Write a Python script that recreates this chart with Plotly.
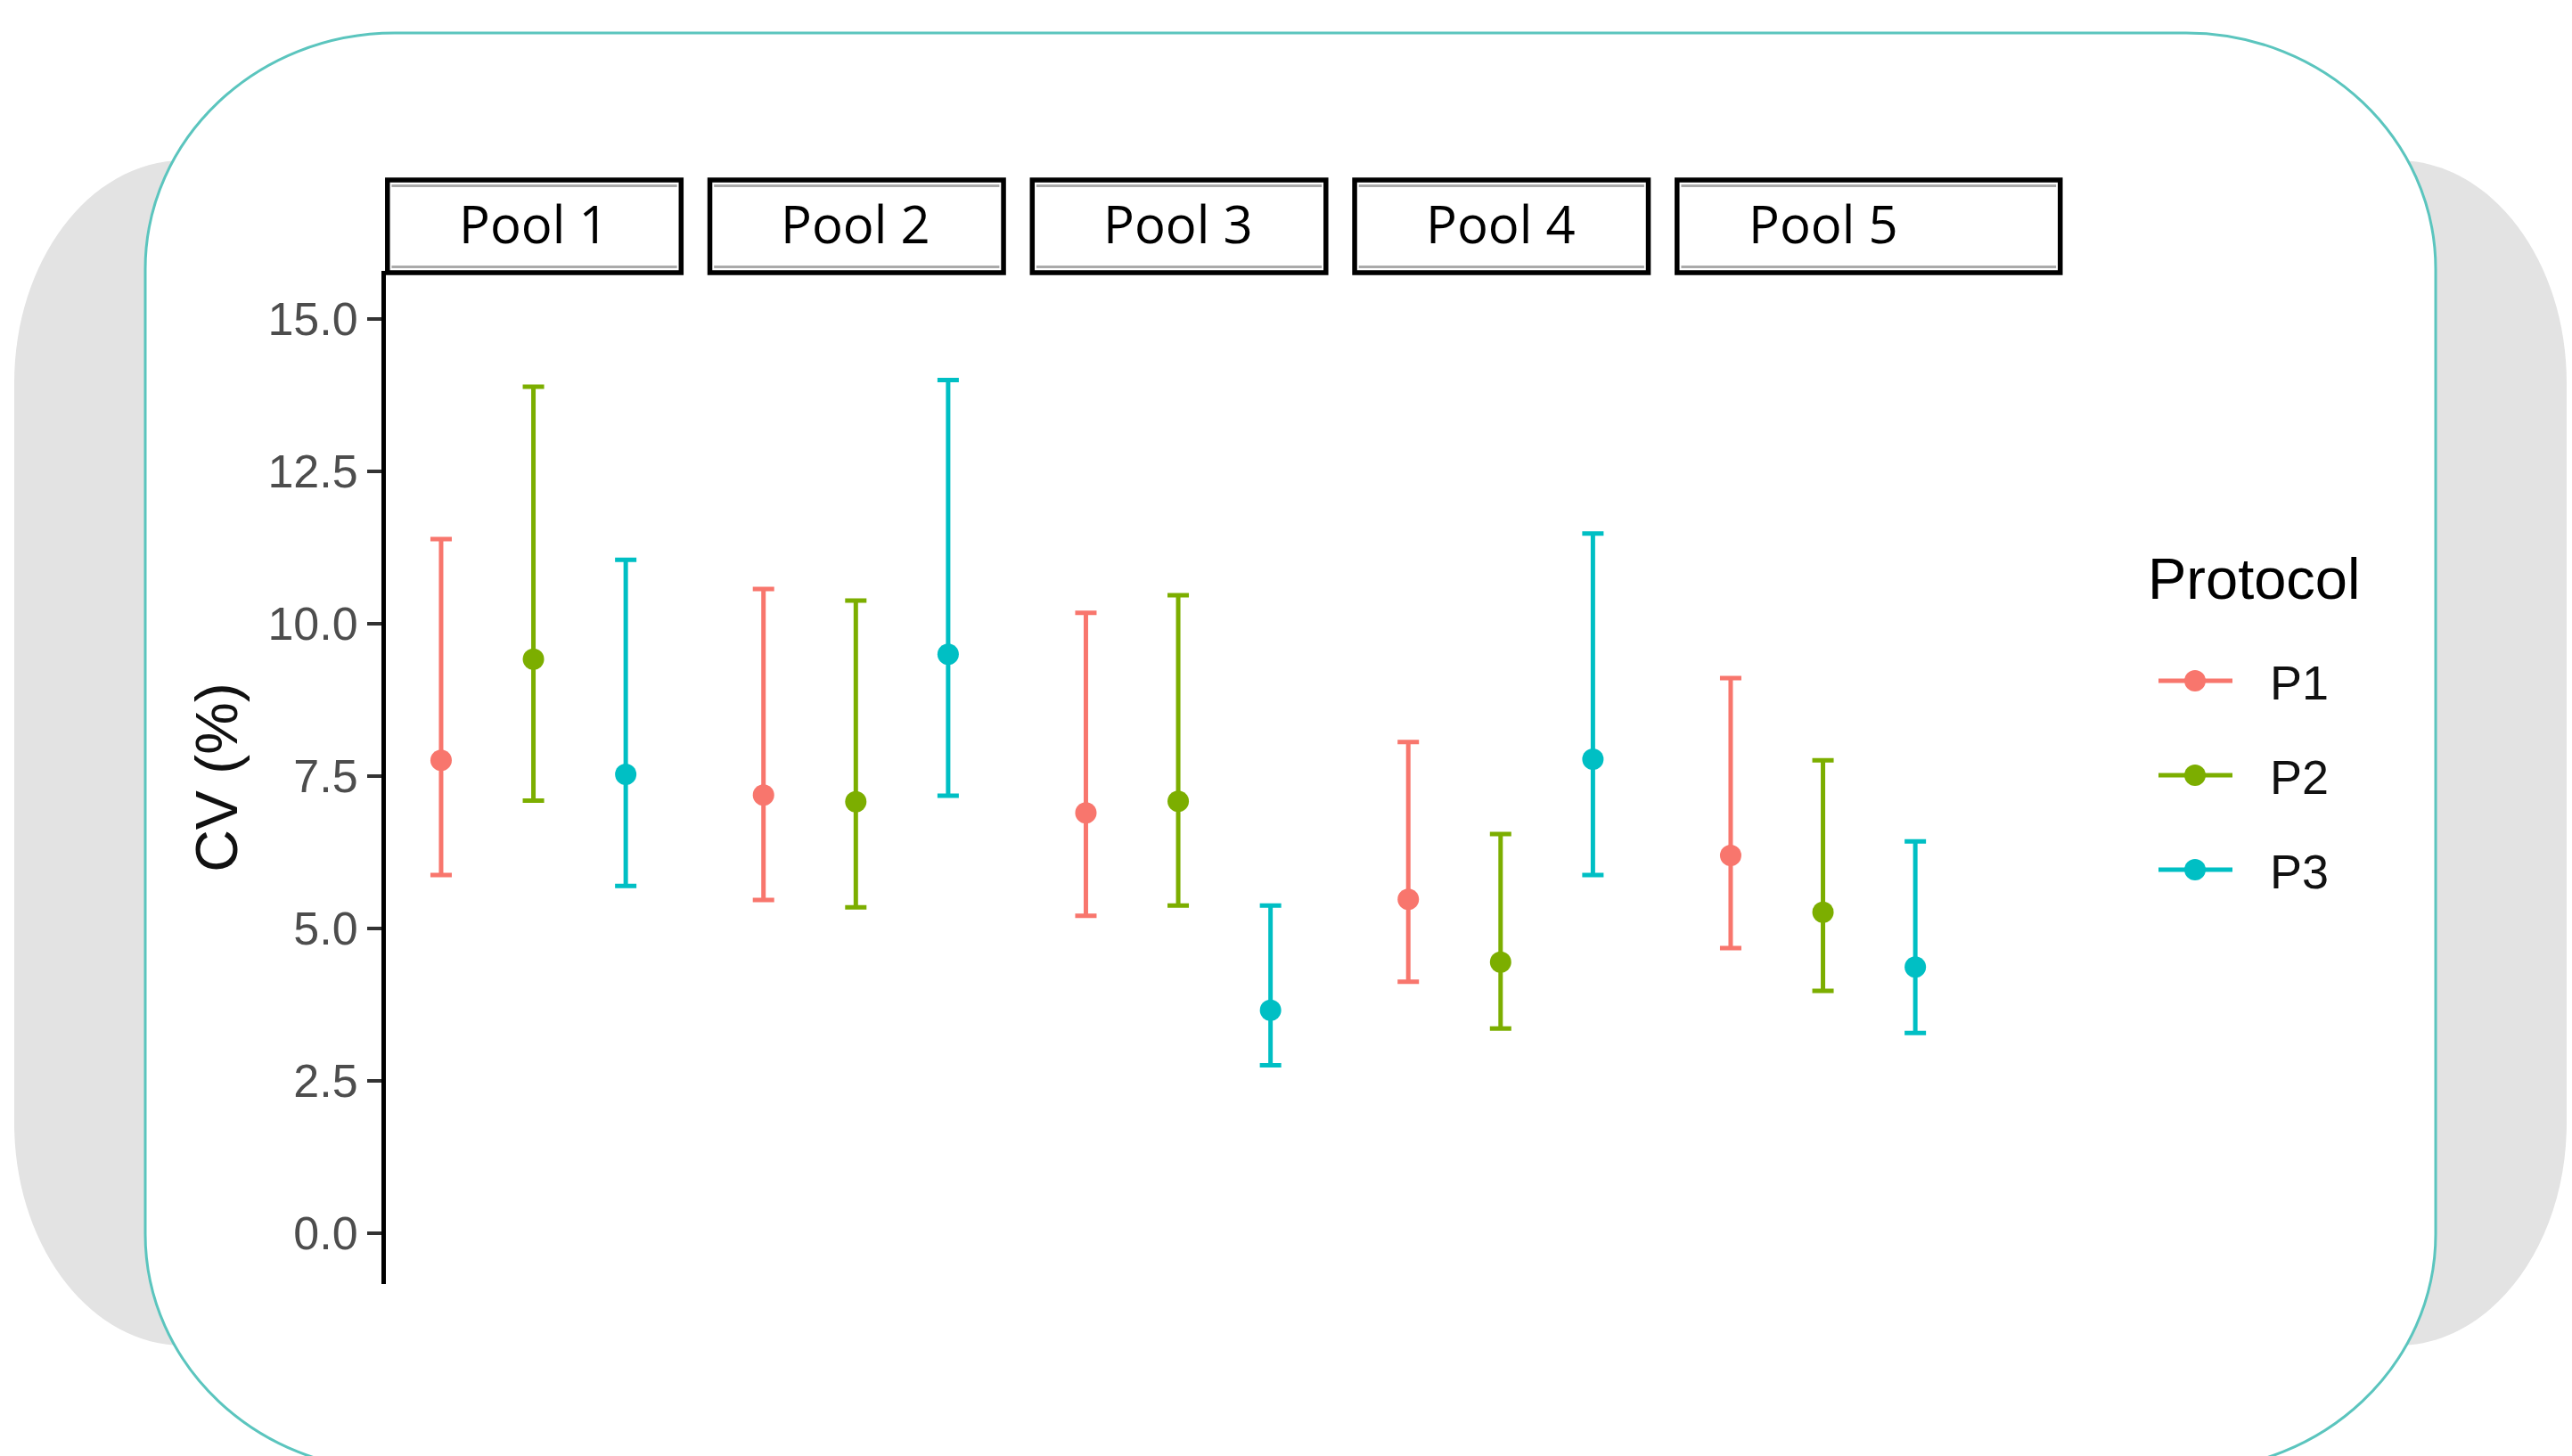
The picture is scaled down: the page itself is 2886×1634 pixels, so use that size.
import plotly.graph_objects as go

# ---- data -------------------------------------------------------------
pools = ["Pool 1", "Pool 2", "Pool 3", "Pool 4", "Pool 5"]
protocols = ["P1", "P2", "P3"]
colors = {"P1": "#F8766D", "P2": "#7CAE00", "P3": "#00BFC4"}

cv_mean = {
    "P1": [7.76, 7.19, 6.90, 5.48, 6.20],
    "P2": [9.42, 7.08, 7.09, 4.45, 5.27],
    "P3": [7.53, 9.50, 3.66, 7.78, 4.37],
}
cv_low = {
    "P1": [5.88, 5.47, 5.21, 4.13, 4.68],
    "P2": [7.10, 5.35, 5.38, 3.36, 3.98],
    "P3": [5.70, 7.18, 2.76, 5.88, 3.29],
}
cv_high = {
    "P1": [11.39, 10.57, 10.18, 8.06, 9.11],
    "P2": [13.89, 10.38, 10.47, 6.55, 7.76],
    "P3": [11.05, 14.00, 5.38, 11.48, 6.43],
}
y_ticks = [0.0, 2.5, 5.0, 7.5, 10.0, 12.5, 15.0]

# ---- page geometry (pixels) ------------------------------------------
W, H = 2886, 1634


def px(x):
    return x / W


def py(y):
    return 1 - y / H


PANEL_LEFT, PANEL_STEP, PANEL_W = 432.8, 361.75, 331.5
PLOT_TOP, PLOT_BOTTOM = 304, 1441
STRIP_TOP, STRIP_BOTTOM = 202, 306

fig = go.Figure()

# one facet per pool, sharing a single y axis
for k, pool in enumerate(pools):
    xa = "x" if k == 0 else f"x{k + 1}"
    for p in protocols:
        m = cv_mean[p][k]
        fig.add_trace(go.Scatter(
            x=[p], y=[m], xaxis=xa, yaxis="y",
            mode="markers",
            marker=dict(color=colors[p], size=24),
            error_y=dict(type="data", symmetric=False,
                         array=[cv_high[p][k] - m],
                         arrayminus=[m - cv_low[p][k]],
                         color=colors[p], thickness=5, width=12),
            name=p, showlegend=False,
        ))

layout_axes = {}
for k in range(len(pools)):
    left = PANEL_LEFT + k * PANEL_STEP
    key = "xaxis" if k == 0 else f"xaxis{k + 1}"
    layout_axes[key] = dict(
        domain=[px(left), px(left + PANEL_W)],
        type="category", categoryorder="array", categoryarray=protocols,
        range=[-0.6, 2.6], anchor="y",
        showline=False, showticklabels=False, ticks="",
        showgrid=False, zeroline=False,
    )

fig.update_layout(
    width=W, height=H,
    margin=dict(l=0, r=0, t=0, b=0),
    paper_bgcolor="white", plot_bgcolor="rgba(0,0,0,0)",
    showlegend=False,
    font=dict(family="Liberation Sans, Arial, sans-serif"),
    yaxis=dict(
        domain=[py(PLOT_BOTTOM), py(PLOT_TOP)],
        range=[-0.83, 15.79], anchor="x",
        tickvals=y_ticks, ticktext=[f"{v:.1f}" for v in y_ticks],
        showline=True, linecolor="black", linewidth=4.5,
        ticks="outside", ticklen=16, tickwidth=4, tickcolor="#333333",
        tickfont=dict(size=52, color="#4d4d4d"),
        showgrid=False, zeroline=False,
        title=dict(text="CV (%)", font=dict(size=66, color="#111111"), standoff=14),
    ),
    **layout_axes,
)


# ---- decorative frame behind the chart --------------------------------
def rounded_path(x0, y0, x1, y1, rx, ry, k=0.552):
    pts = [
        ("M", [(x0 + rx, y0)]),
        ("L", [(x1 - rx, y0)]),
        ("C", [(x1 - rx + k * rx, y0), (x1, y0 + ry - k * ry), (x1, y0 + ry)]),
        ("L", [(x1, y1 - ry)]),
        ("C", [(x1, y1 - ry + k * ry), (x1 - rx + k * rx, y1), (x1 - rx, y1)]),
        ("L", [(x0 + rx, y1)]),
        ("C", [(x0 + rx - k * rx, y1), (x0, y1 - ry + k * ry), (x0, y1 - ry)]),
        ("L", [(x0, y0 + ry)]),
        ("C", [(x0, y0 + ry - k * ry), (x0 + rx - k * rx, y0), (x0 + rx, y0)]),
    ]
    out = []
    for cmd, coords in pts:
        out.append(cmd + " ".join(f"{px(a):.5f},{py(b):.5f}" for a, b in coords))
    return " ".join(out) + " Z"


shapes = [
    dict(type="path", xref="paper", yref="paper", layer="below",
         path=rounded_path(16, 180, 2880, 1510, 190, 250),
         fillcolor="#e3e3e3", line=dict(width=0)),
    dict(type="path", xref="paper", yref="paper", layer="below",
         path=rounded_path(163, 37, 2733, 1650, 280, 265),
         fillcolor="white", line=dict(color="#5bc5be", width=3)),
]

# facet strips
annotations = []
strip_right = [1.0, 1.0, 1.0, 1.0, 1.303]
for k, pool in enumerate(pools):
    xr = "x domain" if k == 0 else f"x{k + 1} domain"
    shapes.append(dict(type="rect", xref=xr, yref="paper",
                       x0=0.006, x1=strip_right[k],
                       y0=py(STRIP_BOTTOM), y1=py(STRIP_TOP),
                       fillcolor="white", line=dict(color="black", width=5.5)))
    for yy in (STRIP_TOP + 6.5, STRIP_BOTTOM - 6.5):
        shapes.append(dict(type="line", xref=xr, yref="paper",
                           x0=0.02, x1=strip_right[k] - 0.014,
                           y0=py(yy), y1=py(yy),
                           line=dict(color="#aaaaaa", width=3)))
    annotations.append(dict(xref=xr, yref="paper", x=0.5, y=py(251),
                            text=pool, showarrow=False,
                            xanchor="center", yanchor="middle",
                            font=dict(family="Open Sans, sans-serif",
                                      size=58, color="black")))

# legend
annotations.append(dict(xref="paper", yref="paper", x=px(2408), y=py(650),
                        text="Protocol", showarrow=False,
                        xanchor="left", yanchor="middle",
                        font=dict(size=65, color="black")))
legend_y = {"P1": 764, "P2": 870, "P3": 976}
for p in protocols:
    yy = legend_y[p]
    shapes.append(dict(type="line", xref="paper", yref="paper",
                       x0=px(2422), x1=px(2505), y0=py(yy), y1=py(yy),
                       line=dict(color=colors[p], width=5)))
    shapes.append(dict(type="circle", xref="paper", yref="paper",
                       x0=px(2463 - 12), x1=px(2463 + 12),
                       y0=py(yy + 12), y1=py(yy - 12),
                       fillcolor=colors[p], line=dict(width=0)))
    annotations.append(dict(xref="paper", yref="paper", x=px(2545), y=py(yy + 2),
                            text=p, showarrow=False,
                            xanchor="left", yanchor="middle",
                            font=dict(size=54, color="#111111")))

fig.update_layout(shapes=shapes, annotations=annotations)

fig.write_html("out.html")
